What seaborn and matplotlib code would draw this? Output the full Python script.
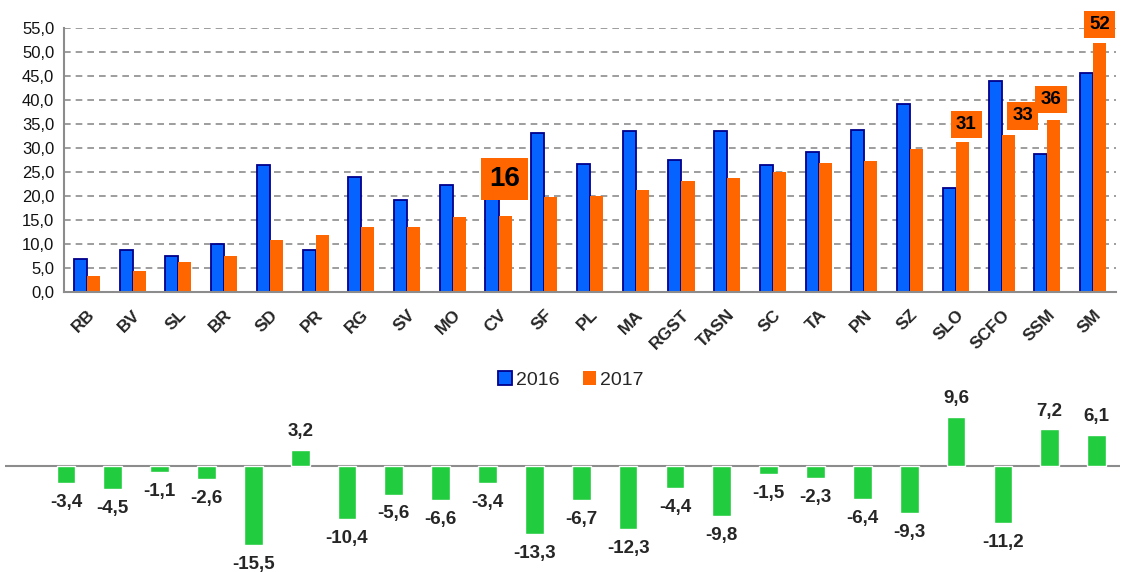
import matplotlib
matplotlib.use("Agg")
import matplotlib.pyplot as plt
from matplotlib.patches import Patch
import seaborn as sns
import pandas as pd
import numpy as np

categories = ["RB", "BV", "SL", "BR", "SD", "PR", "RG", "SV", "MO", "CV", "SF", "PL",
              "MA", "RGST", "TASN", "SC", "TA", "PN", "SZ", "SLO", "SCFO", "SSM", "SM"]
values_2016 = [6.8, 8.8, 7.4, 10.1, 26.4, 8.7, 23.9, 19.2, 22.2, 19.3, 33.1, 26.7,
               33.6, 27.6, 33.5, 26.5, 29.2, 33.7, 39.1, 21.6, 43.9, 28.7, 45.7]
values_2017 = [3.4, 4.3, 6.3, 7.5, 10.9, 11.9, 13.5, 13.6, 15.6, 15.9, 19.8, 20.0,
               21.3, 23.2, 23.7, 25.0, 26.9, 27.3, 29.8, 31.2, 32.7, 35.9, 51.8]
change = [-3.4, -4.5, -1.1, -2.6, -15.5, 3.2, -10.4, -5.6, -6.6, -3.4, -13.3, -6.7,
          -12.3, -4.4, -9.8, -1.5, -2.3, -6.4, -9.3, 9.6, -11.2, 7.2, 6.1]
highlight = {"CV": "16", "SLO": "31", "SCFO": "33", "SSM": "36", "SM": "52"}
y_ticks = [0, 5, 10, 15, 20, 25, 30, 35, 40, 45, 50, 55]

BLUE = "#0563FF"
NAVY = "#00008B"
ORANGE = "#FF6600"
GREEN = "#22CC3F"
GRID = "#8C8C8C"

sns.set_style("white")
plt.rcParams["font.family"] = ["Liberation Sans", "DejaVu Sans"]

W, H = 1124, 572
fig = plt.figure(figsize=(W / 100, H / 100), dpi=100)

def px_axes(l, t, r, b):
    return fig.add_axes([l / W, 1 - b / H, (r - l) / W, (b - t) / H])

# ---------- top chart ----------
ax = px_axes(64, 28, 1116, 292)
df = pd.DataFrame({
    "cat": categories * 2,
    "val": values_2016 + values_2017,
    "year": ["2016"] * len(categories) + ["2017"] * len(categories),
})
sns.barplot(data=df, x="cat", y="val", hue="year", palette=[BLUE, ORANGE],
            width=0.57, gap=0, ax=ax, legend=False, saturation=1)
for p in ax.containers[0]:
    p.set_edgecolor(NAVY)
    p.set_linewidth(1.3)
for p in ax.containers[1]:
    p.set_edgecolor("none")

ax.set_ylim(0, 55)
ax.set_xlim(-0.5, len(categories) - 0.5)
ax.set_yticks(y_ticks)
ax.set_yticklabels([f"{v:.1f}".replace(".", ",") for v in y_ticks], fontsize=12,
                   color="#111111")
ax.set_xticks(np.arange(len(categories) + 1) - 0.5, minor=True)
ax.set_xticks(np.arange(len(categories)))
ax.set_xticklabels(categories, rotation=45, ha="right", rotation_mode="anchor",
                   fontsize=12.5, fontweight="bold")
for lbl in ax.get_xticklabels():
    lbl.set_x(lbl.get_position()[0])
ax.tick_params(axis="x", which="major", length=0, pad=11)
ax.tick_params(axis="x", which="minor", length=5, color=GRID, width=1.5)
ax.tick_params(axis="y", length=8, direction="inout", color=GRID, width=1.3, pad=3)
ax.set_xlabel("")
ax.set_ylabel("")
ax.yaxis.grid(True, linestyle=(0, (4, 3)), color=GRID, linewidth=1.2)
ax.set_axisbelow(True)
for s in ["top", "right"]:
    ax.spines[s].set_visible(False)
for s in ["left", "bottom"]:
    ax.spines[s].set_color(GRID)
    ax.spines[s].set_linewidth(1.5)

label_offset = {"CV": (0.13, 7.6, 20), "SLO": (0.23, 3.7, 13.5), "SCFO": (0.46, 4.0, 13.5),
                "SSM": (0.08, 4.2, 13.5), "SM": (0.14, 3.9, 13.5)}
for i, c in enumerate(categories):
    if c in highlight:
        dx, dy, fs = label_offset[c]
        ax.text(i + dx, values_2017[i] + dy, highlight[c], ha="center", va="center",
                fontsize=fs, fontweight="bold", color="black", clip_on=False,
                bbox=dict(boxstyle="square,pad=0.28", facecolor=ORANGE, edgecolor="none"),
                zorder=5)

fig.legend(handles=[Patch(facecolor=BLUE, edgecolor=NAVY, linewidth=1.3, label="2016"),
                    Patch(facecolor=ORANGE, edgecolor="none", label="2017")],
           loc="center", bbox_to_anchor=(571 / W, 1 - 380 / H), ncol=2, frameon=False,
           fontsize=14, handlelength=0.7, handleheight=0.7, handletextpad=0.2,
           columnspacing=1.2)

# ---------- bottom chart ----------
ax2 = px_axes(5, 390, 1120, 572)
df2 = pd.DataFrame({"cat": categories, "chg": change})
sns.barplot(data=df2, x="cat", y="chg", color=GREEN, width=0.4, saturation=1, ax=ax2)
ax2.set_xlim(-1.3, len(categories) - 0.5)
ax2.set_ylim(-20.8, 14.9)
ax2.axhline(0, color=GRID, linewidth=1.5, zorder=0)
ax2.axis("off")
for i, v in enumerate(change):
    ax2.annotate(f"{v:.1f}".replace(".", ","), (i, v), xytext=(0, 13 if v > 0 else -14),
                 textcoords="offset points", ha="center", va="center",
                 fontsize=13.5, fontweight="bold", annotation_clip=False)

fig.savefig("out.png", dpi=100)
